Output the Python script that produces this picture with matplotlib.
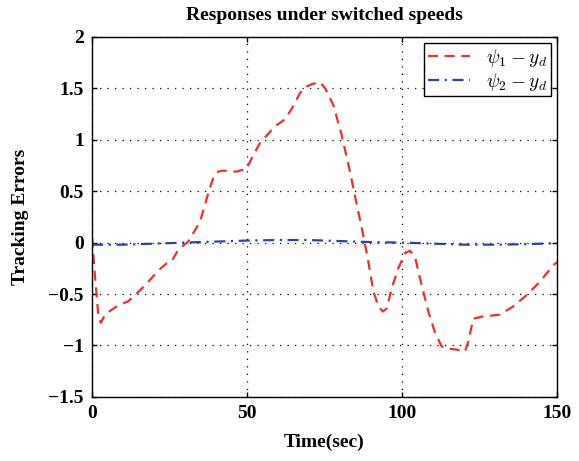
import matplotlib.pyplot as plt

plt.rcParams['font.family'] = ['Liberation Serif', 'DejaVu Serif']
plt.rcParams['mathtext.fontset'] = 'cm'

t1 = [0, 1, 2, 2.8, 4.2, 6, 8.5, 11.7, 13.9, 17.6, 21.4, 24.1, 25.7, 27.8, 31, 34.8,
      37.5, 39.1, 40.7, 42.3, 46.7, 49.9, 52, 54.2, 59, 62.3, 65, 67, 68.7, 70.9,
      73.5, 75.2, 77.8, 80.5, 83.2, 85.4, 87.5, 89.1, 90.8, 92.4, 93.8, 95.1, 96.7,
      98.8, 101, 102.6, 104.2, 106.3, 108.5, 110.6, 112.8, 114.9, 117.6, 120.3,
      121.4, 123, 125.7, 131.6, 135.9, 140.2, 144.5, 148.8, 150]
err1 = [0.05, -0.35, -0.7, -0.78, -0.70, -0.66, -0.61, -0.57, -0.51, -0.40, -0.27, -0.20,
        -0.18, -0.07, 0.01, 0.20, 0.48, 0.63, 0.69, 0.70, 0.69, 0.72, 0.85, 0.97, 1.13,
        1.20, 1.33, 1.45, 1.51, 1.54, 1.56, 1.50, 1.34, 1.05, 0.69, 0.37, 0.07, -0.18,
        -0.48, -0.62, -0.67, -0.64, -0.44, -0.25, -0.10, -0.08, -0.14, -0.41, -0.67,
        -0.87, -1.01, -1.03, -1.04, -1.06, -0.96, -0.74, -0.72, -0.70, -0.62, -0.51,
        -0.38, -0.22, -0.19]

t2 = [0, 10, 20, 30, 40, 50, 60, 70, 80, 90, 100, 110, 120, 130, 140, 150]
err2 = [-0.02, -0.02, -0.01, 0.0, 0.01, 0.02, 0.025, 0.025, 0.015, 0.005, 0.0,
        -0.01, -0.02, -0.02, -0.015, -0.005]

fig, ax = plt.subplots(figsize=(5.79, 4.61), dpi=100)
fig.subplots_adjust(left=0.159, right=0.962, top=0.920, bottom=0.139)

ax.plot(t1, err1, color='#e8312f', lw=1.6, dashes=(4.5, 3), label=r'$\psi_1 - y_d$')
ax.plot(t2, err2, color='#2a44a0', lw=1.6, dashes=(5, 2.5, 1, 2.5), label=r'$\psi_2 - y_d$')

ax.set_xlim(0, 150)
ax.set_ylim(-1.5, 2)
ax.set_xticks([0, 50, 100, 150])
ax.set_yticks([-1.5, -1, -0.5, 0, 0.5, 1, 1.5, 2])
ax.set_yticklabels(['\u22121.5', '\u22121', '\u22120.5', '0', '0.5', '1', '1.5', '2'])
ax.grid(True, color='black', lw=0.9, dashes=(1, 5))
ax.tick_params(direction='in', top=True, right=True, labelsize=14, width=1, pad=6)
for lab in ax.get_xticklabels() + ax.get_yticklabels():
    lab.set_fontweight('bold')
for s in ax.spines.values():
    s.set_linewidth(1.0)

ax.set_xlabel('Time(sec)', fontsize=14, fontweight='bold', labelpad=8)
ax.set_ylabel('Tracking Errors', fontsize=14, fontweight='bold', labelpad=14)
ax.set_title('Responses under switched speeds', fontsize=14, fontweight='bold', pad=12)

leg = ax.legend(loc='upper right', fontsize=14, fancybox=False, framealpha=1,
                edgecolor='black', borderaxespad=0.3, handlelength=2.2,
                borderpad=0.2, labelspacing=0.1)
leg.get_frame().set_linewidth(1.0)

plt.savefig('out.png', dpi=100)
